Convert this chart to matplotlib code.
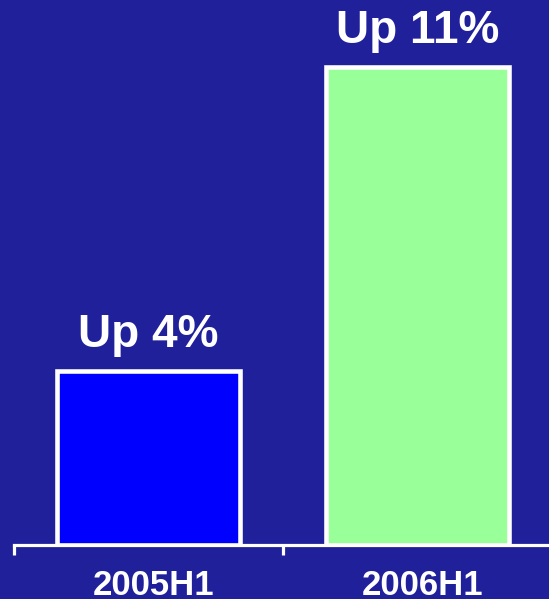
import matplotlib.pyplot as plt
from matplotlib.ticker import FixedLocator

periods = ['2005H1', '2006H1']
growth_pct = [4, 11]
bar_colors = ['#0000ff', '#99ff99']

W, H, DPI = 549, 599, 100
BG = '#20209a'

fig = plt.figure(figsize=(W / DPI, H / DPI), dpi=DPI, facecolor=BG)
# axes run from the left tick to just past the right edge of the figure
ax = fig.add_axes([14 / W, 54 / H, 538 / W, 521.4 / H])
ax.set_facecolor(BG)

x = list(range(len(periods)))
bars = ax.bar(x, growth_pct, width=0.68, color=bar_colors,
              edgecolor='white', linewidth=3.3, zorder=2)

for rect, v in zip(bars, growth_pct):
    ax.annotate(f'Up {v}%', (rect.get_x() + rect.get_width() / 2, v),
                xytext=(0, 14), textcoords='offset pixels',
                ha='center', va='bottom', color='white',
                fontsize=33, fontweight='bold', family='Liberation Sans')

ax.set_xlim(-0.5, 1.5)
ax.set_ylim(0, 12)

for side in ['top', 'right', 'left']:
    ax.spines[side].set_visible(False)
ax.spines['bottom'].set_color('white')
ax.spines['bottom'].set_linewidth(2.3)

# category boundaries get the ticks, names sit between them
ax.xaxis.set_major_locator(FixedLocator([-0.5, 0.5, 1.5]))
ax.xaxis.set_minor_locator(FixedLocator([0.02, 1.02]))
ax.xaxis.set_major_formatter(plt.NullFormatter())
ax.set_xticks([0.02, 1.02], periods, minor=True)
ax.tick_params(axis='x', which='major', direction='out', length=7.5,
               width=2.3, color='white')
ax.tick_params(axis='x', which='minor', length=0, pad=17,
               labelcolor='white', labelsize=25)
for lbl in ax.get_xticklabels(minor=True):
    lbl.set_fontweight('bold')
    lbl.set_family('Liberation Sans')
ax.set_yticks([])

fig.savefig('out.png', dpi=DPI, facecolor=BG)
